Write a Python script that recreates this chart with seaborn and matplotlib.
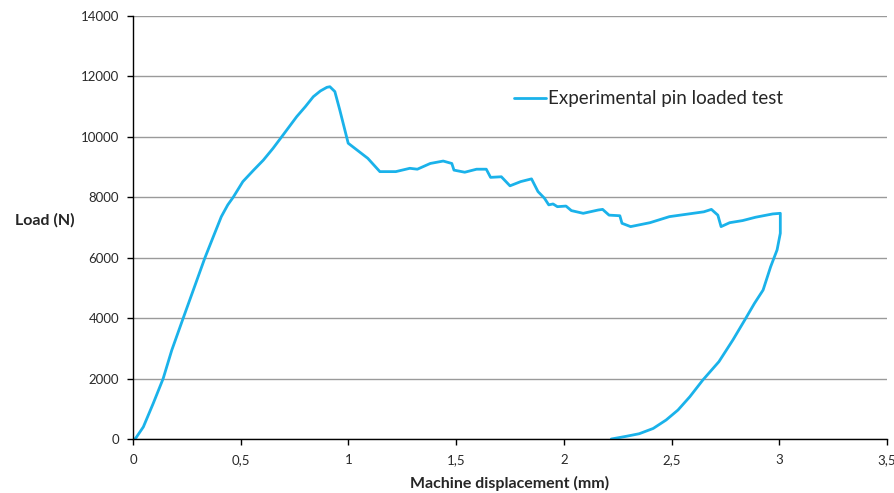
import matplotlib
matplotlib.use("Agg")
import matplotlib.pyplot as plt
import seaborn as sns
import pandas as pd

# Displacement (mm) and load (N)
displacement = [0.0, 0.01, 0.048, 0.094, 0.14, 0.18, 0.233, 0.28, 0.334, 0.373, 0.41, 0.44, 0.465,
                0.51, 0.56, 0.605, 0.65, 0.69, 0.76, 0.80, 0.837, 0.87, 0.90, 0.914, 0.937, 0.96, 0.999, 1.05, 1.09,
                1.146, 1.22, 1.285, 1.32, 1.38, 1.44, 1.48, 1.49, 1.54, 1.595, 1.64, 1.66,
                1.71, 1.75, 1.80, 1.85, 1.88, 1.91, 1.93, 1.95, 1.97, 2.01, 2.035, 2.09,
                2.16, 2.18, 2.21, 2.26, 2.27, 2.31, 2.40, 2.49, 2.57, 2.65, 2.685, 2.715,
                2.73, 2.77, 2.83, 2.89, 2.97, 3.005, 3.005, 2.99, 2.96, 2.925, 2.885, 2.84,
                2.785, 2.72, 2.645, 2.585, 2.53, 2.475, 2.415, 2.35, 2.29, 2.22]
load = [0, 0, 400, 1180, 2000, 2940, 4000, 4930, 6000, 6700, 7360, 7750, 8000,
        8520, 8900, 9230, 9620, 10000, 10670, 11000, 11330, 11520, 11640, 11660, 11500, 10890, 9790, 9510, 9290,
        8850, 8850, 8960, 8930, 9120, 9200, 9120, 8900, 8830, 8930, 8930, 8660,
        8680, 8380, 8520, 8610, 8190, 7970, 7750, 7780, 7690, 7710, 7560, 7470,
        7580, 7600, 7410, 7390, 7140, 7030, 7160, 7360, 7440, 7520, 7600, 7410,
        7030, 7160, 7230, 7340, 7450, 7470, 6810, 6260, 5700, 4930, 4490, 3940,
        3280, 2560, 1950, 1400, 960, 630, 350, 175, 90, 0]
series_name = "Experimental pin loaded test"

x_ticks = [0, 0.5, 1, 1.5, 2, 2.5, 3, 3.5]
x_tick_labels = ["0", "0,5", "1", "1,5", "2", "2,5", "3", "3,5"]
y_ticks = [0, 2000, 4000, 6000, 8000, 10000, 12000, 14000]

df = pd.DataFrame({"Machine displacement (mm)": displacement, "Load (N)": load,
                   "series": series_name})

sns.set_style("white")
plt.rcParams["font.family"] = ["Lato", "DejaVu Sans"]

fig = plt.figure(figsize=(8.95, 4.93), dpi=100)
ax = fig.add_axes([0.1486, 0.1095, 0.8424, 0.858])

sns.lineplot(data=df, x="Machine displacement (mm)", y="Load (N)", hue="series",
             palette=["#1ab2ea"], sort=False, estimator=None, linewidth=2.0, ax=ax)

ax.set_xlim(0, 3.5)
ax.set_ylim(0, 14000)
ax.set_xticks(x_ticks)
ax.set_xticklabels(x_tick_labels)
ax.set_yticks(y_ticks)
ax.set_yticklabels([str(v) for v in y_ticks])
ax.yaxis.grid(True, color="#9a9a9a", linewidth=1.0)
ax.xaxis.grid(False)
ax.set_axisbelow(True)

for s in ["top", "right"]:
    ax.spines[s].set_visible(False)
for s in ["left", "bottom"]:
    ax.spines[s].set_color("black")
    ax.spines[s].set_linewidth(1.0)

ax.tick_params(axis="both", which="major", direction="out", length=4, width=1,
               color="black", labelsize=9.5, labelcolor="#2a2a2a", bottom=True, left=True)
ax.tick_params(axis="x", pad=7)
ax.tick_params(axis="y", pad=6)

ax.set_xlabel("Machine displacement (mm)", fontsize=11.5, fontweight="bold", labelpad=7)
ax.set_ylabel("Load (N)", fontsize=11.5, fontweight="bold", rotation=0)
ax.yaxis.set_label_coords(-0.117, 0.5)

leg = ax.legend(frameon=False, loc="center left",
                bbox_to_anchor=(0.505, 0.804), borderaxespad=0, borderpad=0,
                handlelength=1.7, handletextpad=0.15, fontsize=13.5)
for line in leg.get_lines():
    line.set_linewidth(2.0)

fig.savefig("out.png", dpi=100)
